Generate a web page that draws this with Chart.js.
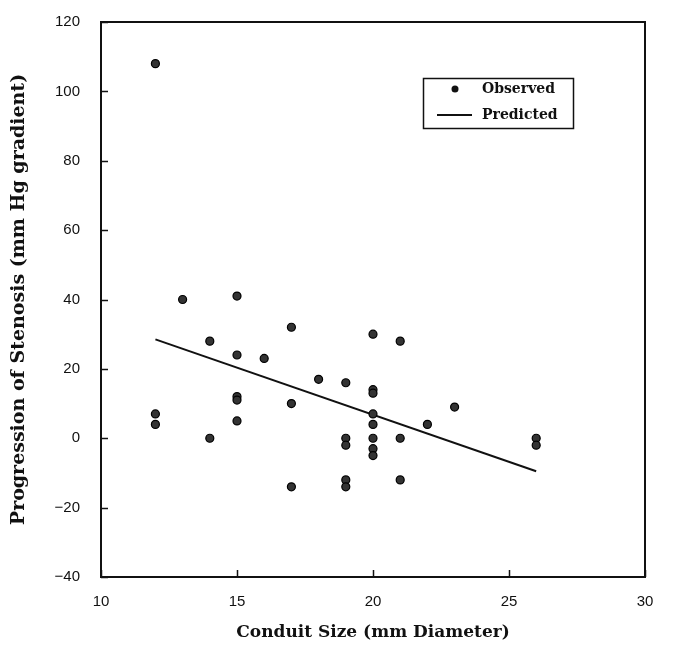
<!DOCTYPE html>
<html>
<head>
<meta charset="utf-8">
<title>Progression of Stenosis vs Conduit Size</title>
<script src="https://cdn.jsdelivr.net/npm/chart.js@4/dist/chart.umd.min.js"></script>
<style>
  html, body { margin: 0; padding: 0; background: #fff; }
  #wrap { width: 674px; height: 648px; position: relative; }
</style>
</head>
<body>
<div id="wrap"><canvas id="grafico" width="674" height="648"></canvas></div>
<script>
// ---------- Dados ----------
const conduitSize = [12, 12, 12, 13, 14, 14, 15, 15, 15, 15, 15, 16, 17, 17, 17, 18,
  19, 19, 19, 19, 19, 20, 20, 20, 20, 20, 20, 20, 20, 21, 21, 21, 22, 23, 26, 26];
const observed = [108, 7, 4, 40, 28, 0, 41, 24, 12, 11, 5, 23, 32, 10, -14, 17,
  16, 0, -2, -12, -14, 30, 14, 13, 7, 4, 0, -3, -5, 28, 0, -12, 4, 9, 0, -2];
const predictedX = [12, 26];
const predictedY = [28.5, -9.5];
const xTicks = [10, 15, 20, 25, 30];
const yTicks = [-40, -20, 0, 20, 40, 60, 80, 100, 120];

const INK = '#111';
const serif = '"DejaVu Serif", "Liberation Serif", serif';
const sans = '"Liberation Sans", Arial, sans-serif';

// ---------- Plugins ----------
// moldura + ticks para dentro
const frame = {
  id: 'frame',
  afterDraw(chart){
    const { ctx, chartArea: a, scales: { x, y } } = chart;
    ctx.save();
    ctx.strokeStyle = INK;
    ctx.lineWidth = 2;
    ctx.strokeRect(a.left, a.top, a.right - a.left, a.bottom - a.top);
    ctx.lineWidth = 1.5;
    ctx.beginPath();
    for(const v of yTicks){
      const py = Math.round(y.getPixelForValue(v)) + 0.5;
      ctx.moveTo(a.left, py); ctx.lineTo(a.left + 7, py);
    }
    for(const v of xTicks){
      const px = Math.round(x.getPixelForValue(v)) + 0.5;
      ctx.moveTo(px, a.bottom); ctx.lineTo(px, a.bottom - 7);
    }
    ctx.stroke();
    ctx.restore();
  }
};

// legenda dentro do gráfico, com caixa
const boxLegend = {
  id: 'boxLegend',
  afterDraw(chart){
    const { ctx } = chart;
    const ds = chart.data.datasets;
    ctx.save();
    ctx.strokeStyle = INK;
    ctx.lineWidth = 1.5;
    ctx.strokeRect(423.5, 78.5, 150, 50);
    // Observed
    ctx.fillStyle = INK;
    ctx.beginPath();
    ctx.arc(455, 89, 3.5, 0, Math.PI * 2);
    ctx.fill();
    // Predicted
    ctx.lineWidth = 2;
    ctx.beginPath();
    ctx.moveTo(437, 115); ctx.lineTo(472, 115);
    ctx.stroke();
    ctx.font = 'bold 14px ' + serif;
    ctx.textBaseline = 'middle';
    ctx.fillText(ds[0].label, 482, 89);
    ctx.fillText(ds[1].label, 482, 115);
    ctx.restore();
  }
};

// ---------- Gráfico ----------
function renderGrafico(){
  const ctx = document.getElementById('grafico');
  const pontos = conduitSize.map((c, i) => ({ x: c, y: observed[i] }));
  const linha = predictedX.map((c, i) => ({ x: c, y: predictedY[i] }));

  new Chart(ctx, {
    type: 'scatter',
    data: {
      datasets: [
        { label: 'Observed', data: pontos, pointRadius: 4, pointBackgroundColor: '#333',
          pointBorderColor: '#000', pointBorderWidth: 1.2, showLine: false },
        { label: 'Predicted', data: linha, showLine: true, borderColor: INK, borderWidth: 2,
          pointRadius: 0 }
      ]
    },
    options: {
      responsive: false,
      animation: false,
      layout: { padding: { left: 0, top: 17, right: 29, bottom: 0 } },
      plugins: { legend: { display: false }, tooltip: { enabled: false } },
      scales: {
        x: {
          type: 'linear', min: 10, max: 30,
          afterBuildTicks: (s) => { s.ticks = xTicks.map(v => ({ value: v })); },
          afterFit: (s) => { s.height = 71; },
          grid: { display: false },
          border: { display: false },
          ticks: { color: INK, font: { family: sans, size: 15 }, padding: 8, maxRotation: 0 },
          title: { display: true, text: 'Conduit Size (mm Diameter)', color: INK,
            font: { family: serif, size: 17, weight: 'bold' }, padding: { top: 0, bottom: 5 } }
        },
        y: {
          type: 'linear', min: -40, max: 120,
          afterBuildTicks: (s) => { s.ticks = yTicks.map(v => ({ value: v })); },
          afterFit: (s) => { s.width = 101; },
          grid: { display: false },
          border: { display: false },
          ticks: { color: INK, font: { family: sans, size: 15 }, padding: 13,
            callback: (v) => v < 0 ? '\u2212' + Math.abs(v) : String(v) },
          title: { display: true, text: 'Progression of Stenosis (mm Hg gradient)', color: INK,
            font: { family: serif, size: 19, weight: 'bold' }, padding: { top: 8, bottom: 0 } }
        }
      }
    },
    plugins: [frame, boxLegend]
  });
}

document.addEventListener('DOMContentLoaded', renderGrafico);
</script>
</body>
</html>
